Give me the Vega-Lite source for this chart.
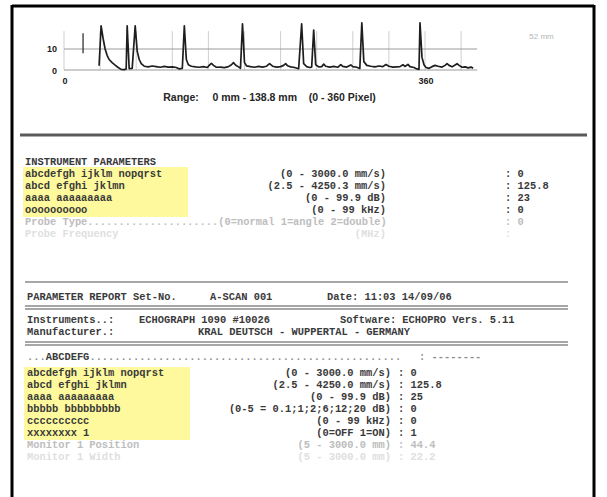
{
  "$schema": "https://vega.github.io/schema/vega-lite/v6.json",
  "width": 607,
  "height": 497,
  "autosize": "none",
  "padding": 0,
  "background": "white",
  "config": {"view": {"stroke": null}},
  "datasets": {
    "frame": [
      {"x": 12, "y": 6, "x2": 594, "y2": 6},
      {"x": 12, "y": 5, "x2": 12, "y2": 500},
      {"x": 594, "y": 5, "x2": 594, "y2": 500}
    ],
    "highlights": [
      {"x": 23, "x2": 188, "y": 167, "y2": 217},
      {"x": 24, "x2": 190, "y": 367, "y2": 440}
    ],
    "rules": [
      {"x": 20, "x2": 587, "y": 135, "kind": "heavy"},
      {"x": 25, "x2": 568, "y": 282, "kind": "thin"},
      {"x": 25, "x2": 568, "y": 306, "kind": "thin"},
      {"x": 25, "x2": 568, "y": 309, "kind": "thin"},
      {"x": 25, "x2": 568, "y": 342, "kind": "thin"},
      {"x": 25, "x2": 568, "y": 345, "kind": "thin"}
    ],
    "vgrid": [
      {"u": 0}, {"u": 36}, {"u": 72}, {"u": 108}, {"u": 144}, {"u": 180},
      {"u": 216}, {"u": 252}, {"u": 288}, {"u": 324}, {"u": 360}, {"u": 396}
    ],
    "hgrid": [{"v": 0}, {"v": 10}],
    "spike": [{"px": 19, "lo": 8, "hi": 17.5}],
    "trace": [
      {"px": 35, "amp": 2}, {"px": 37, "amp": 21}, {"px": 39, "amp": 15}, {"px": 41, "amp": 10},
      {"px": 43, "amp": 7}, {"px": 45, "amp": 5}, {"px": 48, "amp": 3.5}, {"px": 51, "amp": 2.3},
      {"px": 54, "amp": 1.2}, {"px": 57, "amp": 0.3}, {"px": 60, "amp": 0.2}, {"px": 62, "amp": 0.5},
      {"px": 63, "amp": 21}, {"px": 65, "amp": 0.6}, {"px": 68, "amp": 0.8}, {"px": 71, "amp": 21},
      {"px": 73, "amp": 9}, {"px": 75, "amp": 5}, {"px": 77, "amp": 3}, {"px": 80, "amp": 1.8},
      {"px": 84, "amp": 1.5}, {"px": 88, "amp": 1.9}, {"px": 92, "amp": 1.6}, {"px": 96, "amp": 1.3},
      {"px": 100, "amp": 1.7}, {"px": 104, "amp": 1.4}, {"px": 108, "amp": 1.5}, {"px": 112, "amp": 1.2},
      {"px": 115, "amp": 0.5}, {"px": 118, "amp": 0.8}, {"px": 120, "amp": 21}, {"px": 122, "amp": 5},
      {"px": 124, "amp": 2.5}, {"px": 127, "amp": 1.8}, {"px": 131, "amp": 1.5}, {"px": 135, "amp": 1.3},
      {"px": 139, "amp": 1.6}, {"px": 143, "amp": 1.2}, {"px": 145, "amp": 2.3}, {"px": 147, "amp": 3.2},
      {"px": 149, "amp": 2.2}, {"px": 152, "amp": 1.3}, {"px": 156, "amp": 1.4}, {"px": 160, "amp": 1.1},
      {"px": 164, "amp": 1.6}, {"px": 167, "amp": 2.5}, {"px": 169, "amp": 3.5}, {"px": 171, "amp": 2.4},
      {"px": 174, "amp": 1.5}, {"px": 176, "amp": 0.8}, {"px": 178, "amp": 22}, {"px": 180, "amp": 3.5},
      {"px": 182, "amp": 2}, {"px": 186, "amp": 1.6}, {"px": 190, "amp": 1.3}, {"px": 194, "amp": 1.7},
      {"px": 198, "amp": 1.4}, {"px": 202, "amp": 1.8}, {"px": 205, "amp": 3}, {"px": 208, "amp": 1.8},
      {"px": 212, "amp": 1.4}, {"px": 216, "amp": 1.6}, {"px": 219, "amp": 2.2}, {"px": 221, "amp": 3},
      {"px": 223, "amp": 2}, {"px": 226, "amp": 1.5}, {"px": 230, "amp": 1.2}, {"px": 234, "amp": 0.6},
      {"px": 237, "amp": 22}, {"px": 239, "amp": 3}, {"px": 242, "amp": 1.6}, {"px": 245, "amp": 1.2},
      {"px": 247, "amp": 1.4}, {"px": 249, "amp": 19}, {"px": 251, "amp": 2.5}, {"px": 254, "amp": 1.5},
      {"px": 257, "amp": 1.6}, {"px": 259, "amp": 2.8}, {"px": 261, "amp": 1.8}, {"px": 265, "amp": 1.4},
      {"px": 269, "amp": 1.7}, {"px": 273, "amp": 1.3}, {"px": 276, "amp": 2.6}, {"px": 278, "amp": 1.7},
      {"px": 282, "amp": 1.4}, {"px": 286, "amp": 2.4}, {"px": 288, "amp": 1.6}, {"px": 292, "amp": 1.3},
      {"px": 295, "amp": 0.7}, {"px": 297, "amp": 22.5}, {"px": 299, "amp": 4}, {"px": 302, "amp": 2.2},
      {"px": 306, "amp": 1.8}, {"px": 310, "amp": 1.5}, {"px": 314, "amp": 1.9}, {"px": 318, "amp": 1.6},
      {"px": 321, "amp": 2.6}, {"px": 324, "amp": 1.8}, {"px": 328, "amp": 1.4}, {"px": 332, "amp": 1.5},
      {"px": 335, "amp": 1.6}, {"px": 338, "amp": 2.5}, {"px": 340, "amp": 1.7}, {"px": 343, "amp": 2.7},
      {"px": 345, "amp": 1.6}, {"px": 349, "amp": 1.2}, {"px": 352, "amp": 0.5}, {"px": 354, "amp": 0.3},
      {"px": 355, "amp": 22.5}, {"px": 357, "amp": 6}, {"px": 359, "amp": 2.5}, {"px": 361, "amp": 1.2},
      {"px": 364, "amp": 0.8}, {"px": 367, "amp": 1.6}, {"px": 370, "amp": 2.2}, {"px": 373, "amp": 1.8},
      {"px": 377, "amp": 1.4}, {"px": 380, "amp": 2.2}, {"px": 382, "amp": 3}, {"px": 384, "amp": 2.2},
      {"px": 387, "amp": 1.5}, {"px": 390, "amp": 2.4}, {"px": 392, "amp": 3}, {"px": 394, "amp": 2.2},
      {"px": 397, "amp": 1.3}, {"px": 400, "amp": 1.5}, {"px": 403, "amp": 1.0}, {"px": 406, "amp": 1.4},
      {"px": 408, "amp": 0.8}
    ],
    "chartLabelsRight": [
      {"px": -7, "amp": 10, "text": "10"},
      {"px": -7, "amp": -0.3, "text": "0"}
    ],
    "chartLabelsCenter": [
      {"px": 1, "amp": -5.2, "text": "0"},
      {"px": 361, "amp": -5.4, "text": "360"}
    ],
    "chartCaption": [
      {"px": 99, "amp": -13.3, "text": "Range:"},
      {"px": 148, "amp": -13.3, "text": "0 mm - 138.8 mm"},
      {"px": 244, "amp": -13.3, "text": "(0 - 360 Pixel)"}
    ],
    "chartNote": [
      {"px": 464, "amp": 15.7, "text": "52 mm"}
    ],
    "monoLeft": [
      {"x": 25, "y": 162, "text": "INSTRUMENT PARAMETERS", "tone": "dark"},
      {"x": 25, "y": 174, "text": "abcdefgh ijklm nopqrst", "tone": "dark"},
      {"x": 25, "y": 186, "text": "abcd efghi jklmn", "tone": "dark"},
      {"x": 25, "y": 198, "text": "aaaa aaaaaaaaa", "tone": "dark"},
      {"x": 25, "y": 210, "text": "oooooooooo", "tone": "dark"},
      {"x": 25, "y": 222, "text": "Probe Type.....................(0=normal 1=angle 2=double)", "tone": "faint"},
      {"x": 25, "y": 234, "text": "Probe Frequency", "tone": "vfaint"},
      {"x": 505, "y": 174, "text": ": 0", "tone": "dark"},
      {"x": 505, "y": 186, "text": ": 125.8", "tone": "dark"},
      {"x": 505, "y": 198, "text": ": 23", "tone": "dark"},
      {"x": 505, "y": 210, "text": ": 0", "tone": "dark"},
      {"x": 505, "y": 222, "text": ": 0", "tone": "faint"},
      {"x": 505, "y": 234, "text": ":", "tone": "vfaint"},
      {"x": 27, "y": 297, "text": "PARAMETER REPORT Set-No.", "tone": "dark"},
      {"x": 210, "y": 297, "text": "A-SCAN 001", "tone": "dark"},
      {"x": 327, "y": 297, "text": "Date: 11:03 14/09/06", "tone": "dark"},
      {"x": 27, "y": 320, "text": "Instruments..:", "tone": "dark"},
      {"x": 139, "y": 320, "text": "ECHOGRAPH 1090 #10026", "tone": "dark"},
      {"x": 340, "y": 320, "text": "Software: ECHOPRO Vers. 5.11", "tone": "dark"},
      {"x": 27, "y": 332, "text": "Manufacturer.:", "tone": "dark"},
      {"x": 198, "y": 332, "text": "KRAL DEUTSCH - WUPPERTAL - GERMANY", "tone": "dark"},
      {"x": 27, "y": 357, "text": "...", "tone": "mid"},
      {"x": 45.7, "y": 357, "text": "ABCDEFG", "tone": "dark"},
      {"x": 89.4, "y": 357, "text": "..................................................", "tone": "mid"},
      {"x": 419, "y": 357, "text": ": --------", "tone": "mid"},
      {"x": 27, "y": 373, "text": "abcdefgh ijklm nopqrst", "tone": "dark"},
      {"x": 27, "y": 385, "text": "abcd efghi jklmn", "tone": "dark"},
      {"x": 27, "y": 397, "text": "aaaa aaaaaaaaa", "tone": "dark"},
      {"x": 27, "y": 409, "text": "bbbbb bbbbbbbbb", "tone": "dark"},
      {"x": 27, "y": 421, "text": "cccccccccc", "tone": "dark"},
      {"x": 27, "y": 433, "text": "xxxxxxxx 1", "tone": "dark"},
      {"x": 27, "y": 445, "text": "Monitor 1 Position", "tone": "faint"},
      {"x": 27, "y": 457, "text": "Monitor 1 Width", "tone": "vfaint"},
      {"x": 398, "y": 373, "text": ": 0", "tone": "dark"},
      {"x": 398, "y": 385, "text": ": 125.8", "tone": "dark"},
      {"x": 398, "y": 397, "text": ": 25", "tone": "dark"},
      {"x": 398, "y": 409, "text": ": 0", "tone": "dark"},
      {"x": 398, "y": 421, "text": ": 0", "tone": "dark"},
      {"x": 398, "y": 433, "text": ": 1", "tone": "dark"},
      {"x": 398, "y": 445, "text": ": 44.4", "tone": "faint"},
      {"x": 398, "y": 457, "text": ": 22.2", "tone": "vfaint"}
    ],
    "monoRight": [
      {"x": 386, "y": 174, "text": "(0 - 3000.0 mm/s)", "tone": "dark"},
      {"x": 386, "y": 186, "text": "(2.5 - 4250.3 mm/s)", "tone": "dark"},
      {"x": 386, "y": 198, "text": "(0 - 99.9 dB)", "tone": "dark"},
      {"x": 386, "y": 210, "text": "(0 - 99 kHz)", "tone": "dark"},
      {"x": 386, "y": 234, "text": "(MHz)", "tone": "vfaint"},
      {"x": 391, "y": 373, "text": "(0 - 3000.0 mm/s)", "tone": "dark"},
      {"x": 391, "y": 385, "text": "(2.5 - 4250.0 mm/s)", "tone": "dark"},
      {"x": 391, "y": 397, "text": "(0 - 99.9 dB)", "tone": "dark"},
      {"x": 391, "y": 409, "text": "(0-5 = 0.1;1;2;6;12;20 dB)", "tone": "dark"},
      {"x": 391, "y": 421, "text": "(0 - 99 kHz)", "tone": "dark"},
      {"x": 391, "y": 433, "text": "(0=OFF 1=ON)", "tone": "dark"},
      {"x": 391, "y": 445, "text": "(5 - 3000.0 mm)", "tone": "faint"},
      {"x": 391, "y": 457, "text": "(5 - 3000.0 mm)", "tone": "vfaint"}
    ]
  },
  "resolve": {"scale": {"x": "independent", "y": "independent"}},
  "layer": [
    {
      "data": {"name": "highlights"},
      "mark": {"type": "rect", "fill": "#fdf99c"},
      "encoding": {
        "x": {"field": "x", "type": "quantitative", "axis": null, "scale": {"domain": [0, 607], "range": [0, 607], "nice": false, "zero": false}},
        "x2": {"field": "x2"},
        "y": {"field": "y", "type": "quantitative", "axis": null, "scale": {"domain": [0, 497], "range": [0, 497], "nice": false, "zero": false}},
        "y2": {"field": "y2"}
      }
    },
    {
      "data": {"name": "frame"},
      "mark": {"type": "rule", "color": "#000000", "strokeWidth": 3},
      "encoding": {
        "x": {"field": "x", "type": "quantitative", "axis": null, "scale": {"domain": [0, 607], "range": [0, 607], "nice": false, "zero": false}},
        "x2": {"field": "x2"},
        "y": {"field": "y", "type": "quantitative", "axis": null, "scale": {"domain": [0, 497], "range": [0, 497], "nice": false, "zero": false}},
        "y2": {"field": "y2"}
      }
    },
    {
      "data": {"name": "rules"},
      "transform": [{"filter": "datum.kind === 'heavy'"}],
      "mark": {"type": "rule", "color": "#5a5a5a", "strokeWidth": 3},
      "encoding": {
        "x": {"field": "x", "type": "quantitative", "axis": null, "scale": {"domain": [0, 607], "range": [0, 607], "nice": false, "zero": false}},
        "x2": {"field": "x2"},
        "y": {"field": "y", "type": "quantitative", "axis": null, "scale": {"domain": [0, 497], "range": [0, 497], "nice": false, "zero": false}}
      }
    },
    {
      "data": {"name": "rules"},
      "transform": [{"filter": "datum.kind === 'thin'"}],
      "mark": {"type": "rule", "color": "#8a8a8a", "strokeWidth": 1.3},
      "encoding": {
        "x": {"field": "x", "type": "quantitative", "axis": null, "scale": {"domain": [0, 607], "range": [0, 607], "nice": false, "zero": false}},
        "x2": {"field": "x2"},
        "y": {"field": "y", "type": "quantitative", "axis": null, "scale": {"domain": [0, 497], "range": [0, 497], "nice": false, "zero": false}}
      }
    },
    {
      "data": {"name": "vgrid"},
      "mark": {"type": "rule", "color": "#cfcfcf", "strokeWidth": 1},
      "encoding": {
        "x": {"field": "u", "type": "quantitative", "axis": null, "scale": {"domain": [0, 360], "range": [64, 425], "nice": false, "zero": false}},
        "y": {"datum": 0, "type": "quantitative", "axis": null, "scale": {"domain": [0, 10], "range": [70, 49], "nice": false, "zero": false}},
        "y2": {"datum": 18.5}
      }
    },
    {
      "data": {"name": "hgrid"},
      "mark": {"type": "rule", "color": "#9a9a9a", "strokeWidth": 1},
      "encoding": {
        "x": {"datum": 0, "type": "quantitative", "axis": null, "scale": {"domain": [0, 360], "range": [64, 425], "nice": false, "zero": false}},
        "x2": {"datum": 412},
        "y": {"field": "v", "type": "quantitative", "axis": null, "scale": {"domain": [0, 10], "range": [70, 49], "nice": false, "zero": false}}
      }
    },
    {
      "data": {"name": "spike"},
      "mark": {"type": "rule", "color": "#333333", "strokeWidth": 1.3},
      "encoding": {
        "x": {"field": "px", "type": "quantitative", "axis": null, "scale": {"domain": [0, 360], "range": [64, 425], "nice": false, "zero": false}},
        "y": {"field": "lo", "type": "quantitative", "axis": null, "scale": {"domain": [0, 10], "range": [70, 49], "nice": false, "zero": false}},
        "y2": {"field": "hi"}
      }
    },
    {
      "data": {"name": "trace"},
      "mark": {"type": "line", "color": "#1e1e1e", "strokeWidth": 1.7, "strokeJoin": "round"},
      "encoding": {
        "x": {"field": "px", "type": "quantitative", "axis": null, "scale": {"domain": [0, 360], "range": [64, 425], "nice": false, "zero": false}},
        "y": {"field": "amp", "type": "quantitative", "axis": null, "scale": {"domain": [0, 10], "range": [70, 49], "nice": false, "zero": false}}
      }
    },
    {
      "data": {"name": "chartLabelsRight"},
      "mark": {"type": "text", "font": "Liberation Sans", "fontWeight": "bold", "fontSize": 9, "align": "right", "baseline": "middle", "color": "#222222"},
      "encoding": {
        "x": {"field": "px", "type": "quantitative", "axis": null, "scale": {"domain": [0, 360], "range": [64, 425], "nice": false, "zero": false}},
        "y": {"field": "amp", "type": "quantitative", "axis": null, "scale": {"domain": [0, 10], "range": [70, 49], "nice": false, "zero": false}},
        "text": {"field": "text"}
      }
    },
    {
      "data": {"name": "chartLabelsCenter"},
      "mark": {"type": "text", "font": "Liberation Sans", "fontWeight": "bold", "fontSize": 9, "align": "center", "baseline": "middle", "color": "#222222"},
      "encoding": {
        "x": {"field": "px", "type": "quantitative", "axis": null, "scale": {"domain": [0, 360], "range": [64, 425], "nice": false, "zero": false}},
        "y": {"field": "amp", "type": "quantitative", "axis": null, "scale": {"domain": [0, 10], "range": [70, 49], "nice": false, "zero": false}},
        "text": {"field": "text"}
      }
    },
    {
      "data": {"name": "chartCaption"},
      "mark": {"type": "text", "font": "Liberation Sans", "fontWeight": "bold", "fontSize": 10.5, "align": "left", "baseline": "middle", "color": "#262626"},
      "encoding": {
        "x": {"field": "px", "type": "quantitative", "axis": null, "scale": {"domain": [0, 360], "range": [64, 425], "nice": false, "zero": false}},
        "y": {"field": "amp", "type": "quantitative", "axis": null, "scale": {"domain": [0, 10], "range": [70, 49], "nice": false, "zero": false}},
        "text": {"field": "text"}
      }
    },
    {
      "data": {"name": "chartNote"},
      "mark": {"type": "text", "font": "Liberation Sans", "fontSize": 8, "align": "left", "baseline": "middle", "color": "#b5b5b5"},
      "encoding": {
        "x": {"field": "px", "type": "quantitative", "axis": null, "scale": {"domain": [0, 360], "range": [64, 425], "nice": false, "zero": false}},
        "y": {"field": "amp", "type": "quantitative", "axis": null, "scale": {"domain": [0, 10], "range": [70, 49], "nice": false, "zero": false}},
        "text": {"field": "text"}
      }
    },
    {
      "data": {"name": "monoLeft"},
      "mark": {"type": "text", "font": "Liberation Mono", "fontWeight": "bold", "fontSize": 10.4, "align": "left", "baseline": "middle"},
      "encoding": {
        "x": {"field": "x", "type": "quantitative", "axis": null, "scale": {"domain": [0, 607], "range": [0, 607], "nice": false, "zero": false}},
        "y": {"field": "y", "type": "quantitative", "axis": null, "scale": {"domain": [0, 497], "range": [0, 497], "nice": false, "zero": false}},
        "text": {"field": "text"},
        "color": {"field": "tone", "type": "nominal", "legend": null, "scale": {"domain": ["dark", "mid", "faint", "vfaint"], "range": ["#3a3a3a", "#8c8c8c", "#bdbdbd", "#e0e0e0"]}}
      }
    },
    {
      "data": {"name": "monoRight"},
      "mark": {"type": "text", "font": "Liberation Mono", "fontWeight": "bold", "fontSize": 10.4, "align": "right", "baseline": "middle"},
      "encoding": {
        "x": {"field": "x", "type": "quantitative", "axis": null, "scale": {"domain": [0, 607], "range": [0, 607], "nice": false, "zero": false}},
        "y": {"field": "y", "type": "quantitative", "axis": null, "scale": {"domain": [0, 497], "range": [0, 497], "nice": false, "zero": false}},
        "text": {"field": "text"},
        "color": {"field": "tone", "type": "nominal", "legend": null, "scale": {"domain": ["dark", "mid", "faint", "vfaint"], "range": ["#3a3a3a", "#8c8c8c", "#bdbdbd", "#e0e0e0"]}}
      }
    }
  ]
}
